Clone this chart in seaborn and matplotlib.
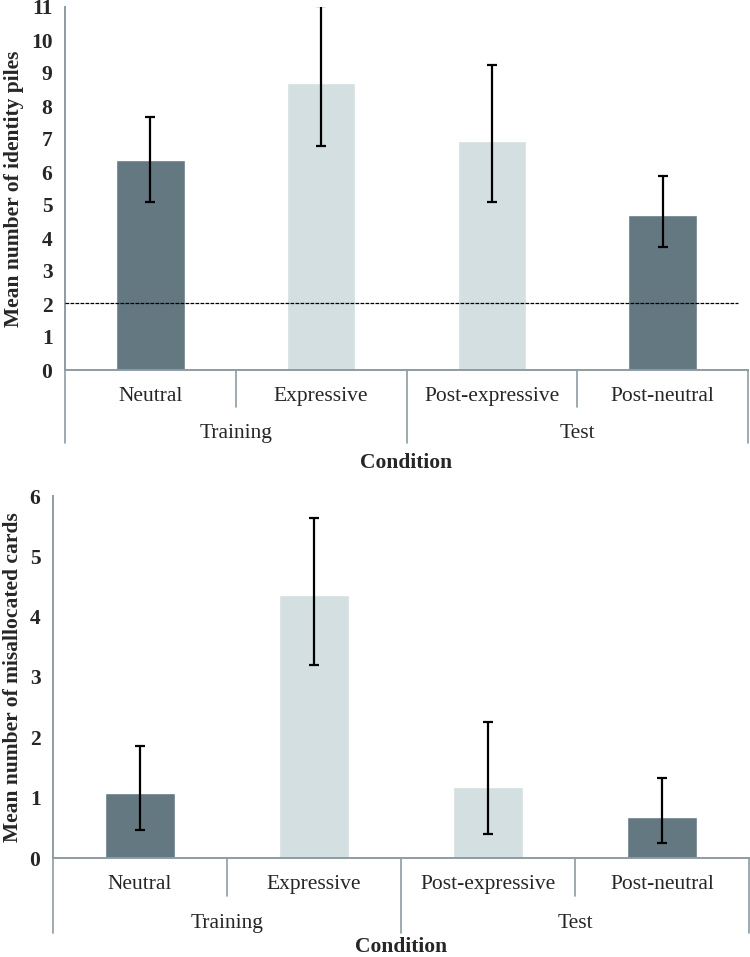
import numpy as np
import pandas as pd
import matplotlib
matplotlib.use('Agg')
import matplotlib.pyplot as plt
import seaborn as sns
from matplotlib.transforms import blended_transform_factory

sns.set_style('white')
plt.rcParams['font.family'] = ['Liberation Serif', 'DejaVu Serif']

# 데이터
conditions = ['Neutral', 'Expressive', 'Post-expressive', 'Post-neutral']
phases = ['Training', 'Test']
bar_kind = ['dark', 'light', 'light', 'dark']

piles_mean = [6.35, 8.70, 6.95, 4.71]
piles_err_low = [1.27, 1.92, 1.86, 0.97]
piles_err_high = [1.32, 2.32, 2.30, 1.18]
chance_level = 2.02

cards_mean = [1.08, 4.36, 1.18, 0.68]
cards_err_low = [0.62, 1.16, 0.78, 0.43]
cards_err_high = [0.78, 1.28, 1.08, 0.65]

colors = {'dark': '#647882', 'light': '#d3dfe0'}
axis_col = '#8d9ca3'
W, H = 750, 957
FS = 15.5


def draw_panel(ax, means, err_low, err_high, ymax, ylabel, offs):
    df = pd.DataFrame({'cond': conditions, 'mean': means, 'kind': bar_kind})
    sns.barplot(data=df, x='cond', y='mean', hue='kind', palette=colors,
                width=0.4, dodge=False, legend=False, ax=ax, saturation=1)
    ax.errorbar(np.arange(len(conditions)), means, yerr=[err_low, err_high],
                fmt='none', ecolor='black', elinewidth=1.6, capsize=3.5, capthick=1.6, zorder=5)
    ax.set_xlim(-0.5, len(conditions) - 0.5)
    ax.set_ylim(0, ymax)
    ax.set_yticks(range(ymax + 1))
    ax.tick_params(axis='y', length=5, color=axis_col, width=1.2, labelsize=FS, pad=4)
    for lab in ax.get_yticklabels():
        lab.set_fontweight('bold')
    ax.set_xticks([])
    ax.set_xlabel('')
    ax.set_ylabel(ylabel, fontsize=FS, fontweight='bold', labelpad=5)
    for s in ['top', 'right']:
        ax.spines[s].set_visible(False)
    for s in ['left', 'bottom']:
        ax.spines[s].set_color(axis_col)
        ax.spines[s].set_linewidth(1.4)

    # 픽셀 -> 축 비율 변환
    h_px = ax.get_position().height * H
    trans = blended_transform_factory(ax.transData, ax.transAxes)
    f = lambda px: -px / h_px

    tick_y, short_y, group_y, long_y, cond_y = offs
    for i, c in enumerate(conditions):
        ax.text(i, f(tick_y), c, transform=trans, ha='center', va='baseline', fontsize=FS)
    for x in [0.5, 2.5]:
        ax.plot([x, x], [0, f(short_y)], transform=trans, color=axis_col, lw=1.2, clip_on=False)
    for x in [-0.5, 1.5, 3.5]:
        ax.plot([x, x], [0, f(long_y)], transform=trans, color=axis_col, lw=1.2, clip_on=False)
    for x, p in zip([0.5, 2.5], phases):
        ax.text(x, f(group_y), p, transform=trans, ha='center', va='baseline', fontsize=FS)
    ax.text(1.5, f(cond_y), 'Condition', transform=trans, ha='center', va='baseline',
            fontsize=FS, fontweight='bold')


fig = plt.figure(figsize=(W / 100, H / 100), dpi=100)
ax1 = fig.add_axes([65 / W, 1 - 370 / H, 683 / W, 363 / H])
ax2 = fig.add_axes([53 / W, 1 - 858 / H, 696 / W, 362 / H])

draw_panel(ax1, piles_mean, piles_err_low, piles_err_high, 11,
           'Mean number of identity piles', (31, 37, 68, 73, 98))
ax1.axhline(chance_level, xmin=0.0, xmax=0.985, color='black', lw=0.9, ls=(0, (3, 1)), zorder=4)

draw_panel(ax2, cards_mean, cards_err_low, cards_err_high, 6,
           'Mean number of misallocated cards', (31, 38, 70, 75, 94))

fig.savefig('out.png', dpi=100)
